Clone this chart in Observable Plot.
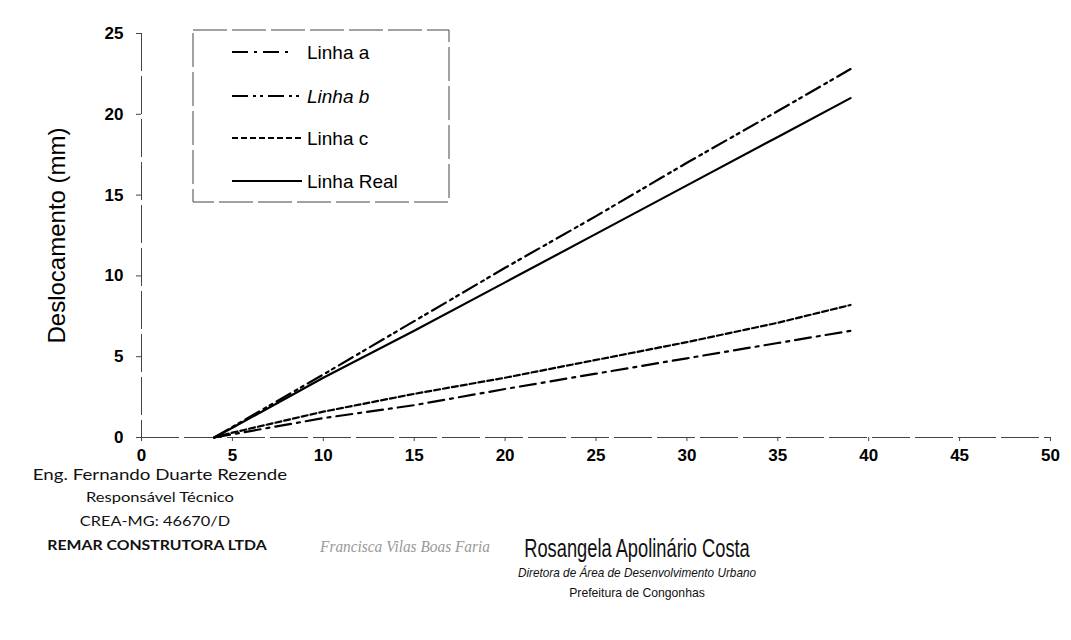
<!DOCTYPE html>
<html>
<head>
<meta charset="utf-8">
<script src="https://cdn.jsdelivr.net/npm/d3@7"></script>
<script src="https://cdn.jsdelivr.net/npm/@observablehq/plot@0.6"></script>
<style>
  html, body { margin: 0; padding: 0; background: #fff; }
  #wrap { position: relative; width: 1071px; height: 640px; overflow: hidden; background: #fff; }
  #chart { position: absolute; left: 0; top: 0; }
  .t { position: absolute; white-space: nowrap; color: #111; line-height: 1; }
  .calib { font-family: Lato, "Open Sans", "Liberation Sans", sans-serif; }
  .narrow { font-family: "Liberation Sans", Arial, sans-serif; }
</style>
</head>
<body>
<div id="wrap">
  <div id="chart"></div>
</div>
<script>
// ---- data ----
const xValues   = [4, 5, 10, 15, 20, 25, 30, 35, 39];
const linhaA    = [0, 0.2, 1.2, 2.0, 3.0, 3.95, 4.9, 5.85, 6.6];
const linhaB    = [0, 0.65, 3.9, 7.2, 10.5, 13.7, 17.0, 20.2, 22.8];
const linhaC    = [0, 0.3, 1.6, 2.7, 3.7, 4.8, 5.9, 7.1, 8.2];
const linhaReal = [0, 0.6, 3.7, 6.6, 9.6, 12.6, 15.6, 18.6, 21.0];
const seriesNames = ["Linha a", "Linha b", "Linha c", "Linha Real"];
const xTicks = [0, 5, 10, 15, 20, 25, 30, 35, 40, 45, 50];
const yTicks = [0, 5, 10, 15, 20, 25];
const yLabel = "Deslocamento (mm)";

const dashes = ["16,6,3,6", "16,5,3,4,3,5", "6,3", null];
const seriesValues = [linhaA, linhaB, linhaC, linhaReal];

const toRows = (vals) => xValues.map((x, i) => ({x, y: vals[i]}));

const chart = Plot.plot({
  width: 1071,
  height: 475,
  marginLeft: 141,
  marginRight: 21,
  marginTop: 33,
  marginBottom: 38,
  style: {fontFamily: "'Liberation Sans', Arial, sans-serif", background: "transparent"},
  x: {domain: [0, 50]},
  y: {domain: [0, 25]},
  marks: [
    Plot.ruleY([0], {stroke: "#444", strokeWidth: 1, strokeDasharray: "38,5"}),
    Plot.ruleX([0], {stroke: "#444", strokeWidth: 1, strokeDasharray: "38,5"}),
    ...seriesValues.map((vals, i) =>
      Plot.line(toRows(vals), {
        x: "x", y: "y", stroke: "#000", strokeWidth: 2.2,
        strokeDasharray: dashes[i] || undefined
      })
    ),
    Plot.axisX({ticks: xTicks, tickSize: 4, tickPadding: 7, fontSize: 17, label: null, stroke: "#444"}),
    Plot.axisY({ticks: yTicks, tickSize: 5, tickPadding: 13, fontSize: 17,
                label: yLabel, labelAnchor: "center", labelArrow: "none", labelOffset: 94, stroke: "#444"})
  ]
});
document.getElementById("chart").appendChild(chart);

chart.querySelectorAll("[aria-label='x-axis tick label'], [aria-label='y-axis tick label']").forEach(g => {
  g.setAttribute("font-weight", "bold");
  g.querySelectorAll("text").forEach(t => t.setAttribute("font-weight", "bold"));
});
chart.querySelectorAll("[aria-label='y-axis label']").forEach(g => {
  g.setAttribute("font-size", 24);
  g.querySelectorAll("text").forEach(t => { t.setAttribute("font-size", 24); t.setAttribute("font-weight", "normal"); });
});

// ---- legend (HTML overlay) ----
const ns = "http://www.w3.org/2000/svg";
const leg = document.createElementNS(ns, "svg");
leg.setAttribute("width", 260);
leg.setAttribute("height", 176);
leg.style.position = "absolute";
leg.style.left = "192px";
leg.style.top = "29px";
const box = document.createElementNS(ns, "rect");
box.setAttribute("x", 1); box.setAttribute("y", 1);
box.setAttribute("width", 256); box.setAttribute("height", 172);
box.setAttribute("fill", "#fff");
box.setAttribute("stroke", "#444");
box.setAttribute("stroke-dasharray", "34,5");
leg.appendChild(box);
const rowY = [23, 67, 109, 152];
seriesNames.forEach((name, i) => {
  const ln = document.createElementNS(ns, "line");
  ln.setAttribute("x1", 40); ln.setAttribute("x2", i === 0 ? 101 : 110);
  ln.setAttribute("y1", rowY[i]); ln.setAttribute("y2", rowY[i]);
  ln.setAttribute("stroke", "#000"); ln.setAttribute("stroke-width", 2.2);
  if (dashes[i]) ln.setAttribute("stroke-dasharray", dashes[i]);
  leg.appendChild(ln);
  const tx = document.createElementNS(ns, "text");
  tx.setAttribute("x", 115); tx.setAttribute("y", rowY[i]);
  tx.setAttribute("dy", "0.35em");
  tx.setAttribute("font-family", "'Liberation Sans', Arial, sans-serif");
  tx.setAttribute("font-size", 19);
  if (i === 1) tx.setAttribute("font-style", "italic");
  tx.textContent = name;
  leg.appendChild(tx);
});
document.getElementById("wrap").appendChild(leg);

// ---- signature block texts (centre x, centre y, target width) ----
const texts = [
  {t: "Eng. Fernando Duarte Rezende", x: 160, y: 474, size: 16, w: 255, cls: "calib"},
  {t: "Responsável Técnico", x: 160, y: 498, size: 13.5, w: 148, cls: "calib"},
  {t: "CREA-MG: 46670/D", x: 155, y: 522, size: 13.5, w: 150, cls: "calib"},
  {t: "REMAR CONSTRUTORA LTDA", x: 157, y: 546, size: 13.5, w: 220, cls: "calib", weight: 700},
  {t: "Francisca Vilas Boas Faria", x: 405, y: 547, size: 16, w: 170, cls: "", family: "'Liberation Serif', serif", style: "italic", color: "#999"},
  {t: "Rosangela Apolinário Costa", x: 637, y: 548, size: 25, w: 226, cls: "narrow"},
  {t: "Diretora de Área de Desenvolvimento Urbano", x: 637, y: 572, size: 13, w: 238, cls: "narrow", style: "italic"},
  {t: "Prefeitura de Congonhas", x: 637, y: 592, size: 13, w: 136, cls: "narrow"}
];
const wrap = document.getElementById("wrap");
texts.forEach(d => {
  const el = document.createElement("div");
  el.className = "t " + d.cls;
  el.textContent = d.t;
  el.style.left = d.x + "px";
  el.style.top = d.y + "px";
  el.style.fontSize = d.size + "px";
  if (d.weight) el.style.fontWeight = d.weight;
  if (d.style) el.style.fontStyle = d.style;
  if (d.family) el.style.fontFamily = d.family;
  if (d.color) el.style.color = d.color;
  wrap.appendChild(el);
  const s = d.w / el.offsetWidth;
  el.style.transform = `translate(-50%, -50%) scaleX(${s.toFixed(3)})`;
});
</script>
</body>
</html>
